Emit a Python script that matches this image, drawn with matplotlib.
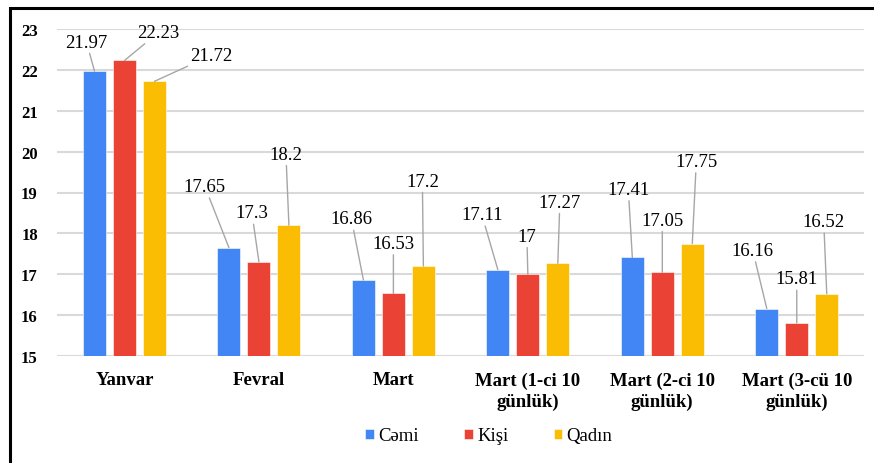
import numpy as np
import matplotlib.pyplot as plt
from matplotlib.patches import Rectangle

categories = ['Yanvar', 'Fevral', 'Mart', 'Mart (1-ci 10\ngünlük)',
              'Mart (2-ci 10\ngünlük)', 'Mart (3-cü 10\ngünlük)']
cemi = [21.97, 17.65, 16.86, 17.11, 17.41, 16.16]
kisi = [22.23, 17.3, 16.53, 17, 17.05, 15.81]
qadin = [21.72, 18.2, 17.2, 17.27, 17.75, 16.52]
series_names = ['Cəmi', 'Kişi', 'Qadın']
colors = ['#4285F4', '#EA4335', '#FBBC04']

# label offsets (pixels) from top of each bar, per series
offsets = [
    [(-8, 29), (-24, 61), (-12, 61), (-16, 55), (-4, 68), (-14, 58)],
    [(34, 28), (-7, 49), (0, 50), (-1, 38), (0, 52), (0, 44)],
    [(57, 26), (-3, 71), (-1, 85), (2, 61), (4, 82), (-3, 72)],
]

plt.rcParams['font.family'] = ['Liberation Serif', 'DejaVu Serif']

fig = plt.figure(figsize=(8.74, 4.64), dpi=100)
ax = fig.add_axes([57.25 / 874, 1 - 357 / 464, (864 - 57.25) / 874, (357 - 30) / 464])

x = np.arange(len(categories))
w = 0.171
step = 0.223
for k, (vals, name, c) in enumerate(zip([cemi, kisi, qadin], series_names, colors)):
    xs = x + (k - 1) * step
    ax.bar(xs, [v - 15 for v in vals], bottom=15, width=w, color=c, label=name,
           edgecolor='white', linewidth=0.4, zorder=3)
    for xi, v, off in zip(xs, vals, offsets[k]):
        ax.annotate(f'{v:g}', xy=(xi, v), xytext=off, textcoords='offset pixels',
                    ha='center', va='center', fontsize=13.5,
                    arrowprops=dict(arrowstyle='-', color='#A6A6A6', lw=1,
                                    shrinkA=0, shrinkB=0), zorder=4)

ax.set_xlim(-0.5, len(categories) - 0.5)
ax.set_ylim(15, 23)
ax.set_yticks(range(15, 24))
ax.set_xticks(x)
ax.set_xticklabels(categories, fontsize=13.5, fontweight='bold', linespacing=1.3)
for t in ax.get_yticklabels():
    t.set_fontsize(12)
    t.set_fontweight('bold')
ax.tick_params(axis='both', length=0)
ax.tick_params(axis='y', pad=14)
ax.tick_params(axis='x', pad=11)
ax.grid(axis='y', color='#D9D9D9', lw=1.5, zorder=0)
for s in ax.spines.values():
    s.set_visible(False)

fig.legend(loc='center', bbox_to_anchor=(489 / 874, 1 - 437 / 464),
           ncol=3, frameon=False, prop={'size': 13.5},
           handlelength=0.45, handleheight=0.45, handletextpad=0.25,
           columnspacing=2.4)

# outer frame (only left and top visible in the picture)
fig.patches.append(Rectangle((9.5 / 874, -0.05), 1.1, 1 - 9 / 464 + 0.05,
                             transform=fig.transFigure, fill=False,
                             edgecolor='black', lw=2.2, clip_on=False))

fig.savefig('out.png', dpi=100)
